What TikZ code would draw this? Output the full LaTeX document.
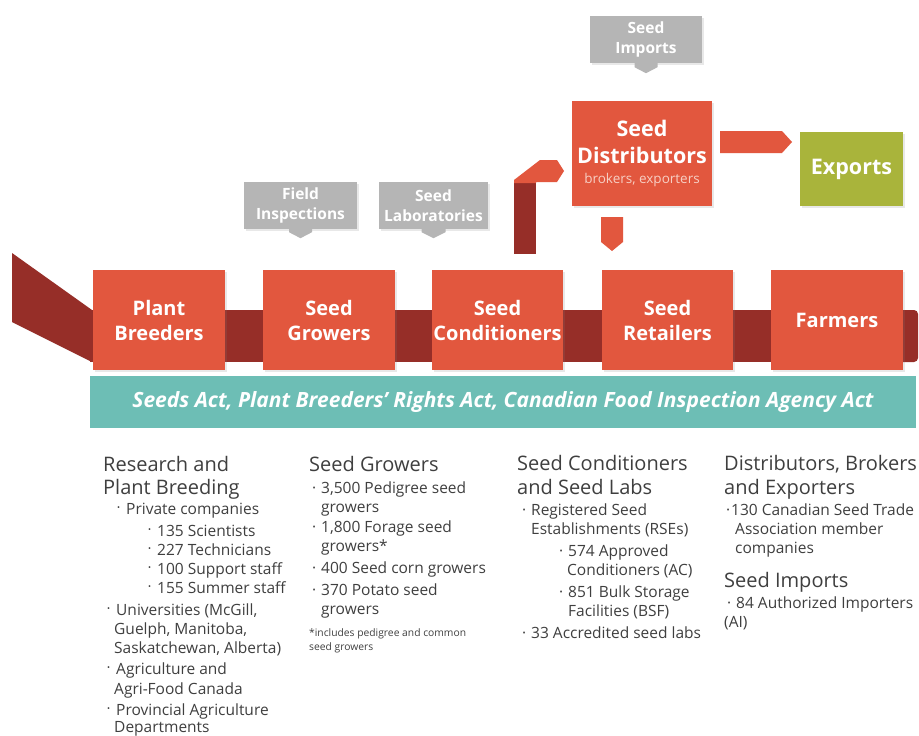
\documentclass[tikz,border=0pt]{standalone}
\usepackage{fontspec}
\usetikzlibrary{shadows}
\setmainfont{Open Sans}
\definecolor{bred}{HTML}{E2573E}
\definecolor{dred}{HTML}{962E28}
\definecolor{bgray}{HTML}{B5B5B5}
\definecolor{bgreen}{HTML}{A9B43B}
\definecolor{teal}{HTML}{6DBEB5}
\definecolor{txtgray}{HTML}{3F3F3F}
\definecolor{pinktxt}{HTML}{F7CFC4}
\newcommand\dotb{\llap{·\hspace{5pt}}}
\newcommand\bigb{\llap{\raisebox{3.5pt}{\fontsize{8}{8}\selectfont •}\hspace{6pt}}}
\begin{document}
\begin{tikzpicture}[x=1pt,y=-1pt]
\tikzset{
  shad/.style={drop shadow={opacity=0.18, shadow xshift=1.5pt, shadow yshift=-1.5pt}},
  redbox/.style={shad, fill=bred, text=white, inner sep=0, minimum width=132pt, minimum height=100pt, align=center, font=\fontsize{20}{25}\selectfont\bfseries},
  graybox/.style={shad, fill=bgray, text=white, inner sep=0, align=center, font=\fontsize{15.5}{20}\selectfont\bfseries},
  head/.style={anchor=base west, inner sep=0, text=txtgray, font=\fontsize{20}{23}\selectfont},
  body/.style={anchor=base west, inner sep=0, text=txtgray, font=\fontsize{15.5}{19}\selectfont},
  foot/.style={anchor=base west, inner sep=0, text=txtgray, font=\fontsize{10.3}{12}\selectfont}
}
\useasboundingbox (0,0) rectangle (919,736);
\fill[white] (0,0) rectangle (919,736);
% band
\fill[dred] (12,253) -- (92,310) -- (92,362) -- (12,322) -- cycle;
\fill[dred] (90,310) rectangle (905,362);
\fill[dred, rounded corners=4pt] (880,310) -- (918,310) -- (918,362) -- (880,362) -- cycle;
% main boxes
\node[redbox] (pb) at (159,320) {Plant\\Breeders};
\node[redbox] (sg) at (329,320) {Seed\\Growers};
\node[redbox, minimum width=131pt] (sc) at (497.5,320) {Seed\\Conditioners};
\node[redbox, minimum width=131pt] (sr) at (667.5,320) {Seed\\Retailers};
\node[redbox] (fa) at (837,320) {Farmers};
% teal act bar
\node[fill=teal, text=white, inner sep=0, minimum width=826pt, minimum height=52pt, font=\fontsize{21}{24}\selectfont\bfseries\itshape] (acts) at (503,402) {Seeds Act, Plant Breeders’ Rights Act, Canadian Food Inspection Agency Act};
% distributors
\node[redbox, minimum width=140pt, minimum height=105pt, font=\fontsize{21.5}{27}\selectfont\bfseries] (sd) at (642,153.5) {Seed\\Distributors\\[-7pt]{\fontsize{13.5}{17}\selectfont\mdseries\color{pinktxt}brokers, exporters}};
\node[shad, fill=bgreen, text=white, inner sep=0, minimum width=103pt, minimum height=74pt, font=\fontsize{21.5}{26}\selectfont\bfseries] (ex) at (851.5,169) {Exports};
% gray boxes
\node[graybox, minimum width=113pt, minimum height=47pt] (fi) at (300.5,205.5) {Field\\Inspections};
\node[graybox, minimum width=109pt, minimum height=47pt] (sl) at (433.5,205.5) {Seed\\Laboratories};
\node[graybox, minimum width=112pt, minimum height=47pt] (si) at (646,39.5) {Seed\\Imports};
% small gray arrows
\fill[bgray] ([xshift=-11.5pt,yshift=6pt]fi.south) -- ++(23,0) -- ++(0,9) -- ++(-11.5,6) -- ++(-11.5,-6) -- cycle;
\fill[bgray] ([xshift=-12pt,yshift=6pt]sl.south) -- ++(24,0) -- ++(0,9) -- ++(-12,6) -- ++(-12,-6) -- cycle;
\fill[bgray] ([xshift=-11.5pt,yshift=5pt]si.south) -- ++(23,0) -- ++(0,9) -- ++(-11.5,6) -- ++(-11.5,-6) -- cycle;
% distributors -> retailers
\fill[bred] (601,217) -- (623,217) -- (623,242) -- (612,251) -- (601,242) -- cycle;
% distributors -> exports
\fill[bred] (720,131) -- (782,131) -- (792,142) -- (782,153) -- (720,153) -- cycle;
% conditioners -> distributors elbow
\fill[dred] (514,183) rectangle (536,254);
\fill[bred] (514,183) -- (514,180) -- (540,160) -- (557,160) -- (564,171) -- (557,182) -- (536,182) -- (536,183) -- cycle;
% column 1
\node[head] (h1a) at (103,471) {Research and};
\node[head] (h1b) at (103,494) {Plant Breeding};
\node[body] (c1a) at (126,514) {\bigb Private companies};
\node[body] (c1b) at (157,536) {\bigb 135 Scientists};
\node[body] (c1c) at (157,555) {\bigb 227 Technicians};
\node[body] (c1d) at (157,574) {\bigb 100 Support staff};
\node[body] (c1e) at (157,593) {\bigb 155 Summer staff};
\node[body] (c1f) at (116,615) {\bigb Universities (McGill,};
\node[body] (c1g) at (114,634) {Guelph, Manitoba,};
\node[body] (c1h) at (114,653) {Saskatchewan, Alberta)};
\node[body] (c1i) at (116,674) {\bigb Agriculture and};
\node[body] (c1j) at (114,694) {Agri-Food Canada};
\node[body] (c1k) at (116,715) {\bigb Provincial Agriculture};
\node[body] (c1l) at (114,732) {Departments};
% column 2
\node[head] (h2a) at (309,471) {Seed Growers};
\node[body] (c2a) at (321,493) {\dotb 3,500 Pedigree seed};
\node[body] (c2b) at (321,512) {growers};
\node[body] (c2c) at (321,532) {\dotb 1,800 Forage seed};
\node[body] (c2d) at (321,551) {growers*};
\node[body] (c2e) at (321,573) {\dotb 400 Seed corn growers};
\node[body] (c2f) at (321,595) {\dotb 370 Potato seed};
\node[body] (c2g) at (321,614) {growers};
\node[foot] (c2h) at (309,636) {*includes pedigree and common};
\node[foot] (c2i) at (309,650) {seed growers};
% column 3
\node[head] (h3a) at (517,470) {Seed Conditioners};
\node[head] (h3b) at (517,494) {and Seed Labs};
\node[body] (c3a) at (531,515) {\dotb Registered Seed};
\node[body] (c3b) at (531,534) {Establishments (RSEs)};
\node[body] (c3c) at (568,556) {\dotb 574 Approved};
\node[body] (c3d) at (567,575) {Conditioners (AC)};
\node[body] (c3e) at (568,597) {\dotb 851 Bulk Storage};
\node[body] (c3f) at (568,616) {Facilities (BSF)};
\node[body] (c3g) at (531,638) {\dotb 33 Accredited seed labs};
% column 4
\node[head] (h4a) at (724,470) {Distributors, Brokers};
\node[head] (h4b) at (724,494) {and Exporters};
\node[body] (c4a) at (731,515) {\llap{·\hspace{1pt}}130 Canadian Seed Trade};
\node[body] (c4b) at (735,534) {Association member};
\node[body] (c4c) at (735,553) {companies};
\node[head] (h4c) at (724,587) {Seed Imports};
\node[body] (c4d) at (736,608) {\dotb 84 Authorized Importers};
\node[body] (c4e) at (724,627) {(AI)};
\end{tikzpicture}
\end{document}
